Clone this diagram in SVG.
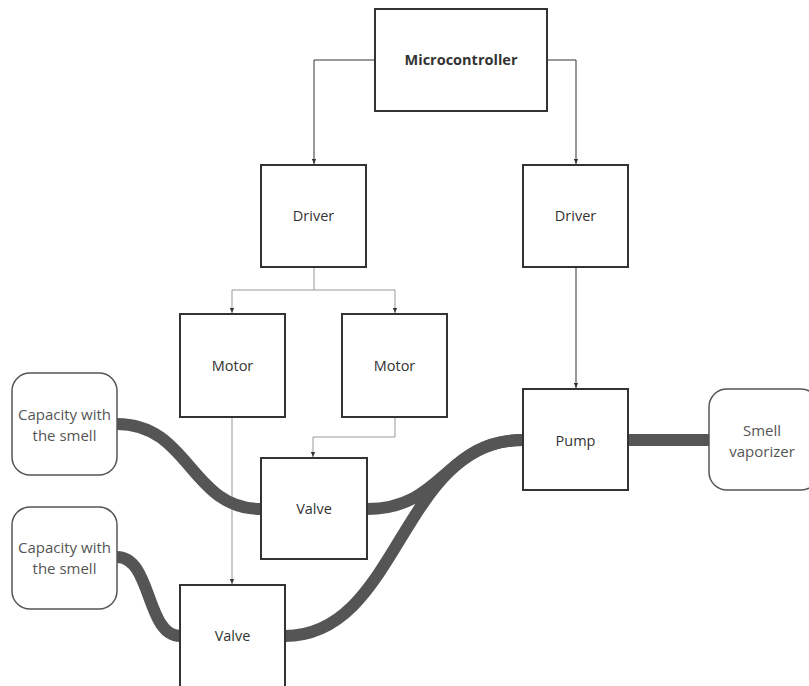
<svg xmlns="http://www.w3.org/2000/svg" width="809" height="686" viewBox="0 0 809 686">
<style>
.box{fill:#fff;stroke:#333;stroke-width:2}
.rbox{fill:#fff;stroke:#555;stroke-width:1.5}
.t{font-family:"Open Sans","Liberation Sans",sans-serif;font-size:14.5px;fill:#333;text-anchor:middle}
.b{font-weight:bold}
.g{font-family:"Open Sans","Liberation Sans",sans-serif;font-size:15px;fill:#555;text-anchor:middle}
.w{fill:none;stroke:#333;stroke-width:1}
.wl{fill:none;stroke:#999;stroke-width:1}
.pipe{fill:none;stroke:#555;stroke-width:12}
</style>
<defs>
<marker id="ah" viewBox="0 0 6 6" refX="6" refY="3" markerWidth="5" markerHeight="5" orient="auto" markerUnits="userSpaceOnUse">
<path d="M0,0.5 L6,3 L0,5.5 z" fill="#333"/>
</marker>
</defs>
<g id="connectors">
<path class="w" d="M375,60 H314 V164" marker-end="url(#ah)"/>
<path class="w" d="M547,60 H576 V164" marker-end="url(#ah)"/>
<path class="wl" d="M314,267 V290 H232 V313" marker-end="url(#ah)"/>
<path class="wl" d="M314,290 H395 V313" marker-end="url(#ah)"/>
<path class="w" d="M576,267 V388" marker-end="url(#ah)"/>
<path class="wl" d="M395,417 V437 H313 V457" marker-end="url(#ah)"/>
<path class="wl" d="M232,417 V584" marker-end="url(#ah)"/>
<path class="pipe" d="M117,424 C190,424 190,509 261,509"/>
<path class="pipe" d="M367,509 C445,509 445,440 523,440"/>
<path class="pipe" d="M117,557 C152,557 146,636 180,636"/>
<path class="pipe" d="M285,636 C400,636 400,440 523,440"/>
<path class="pipe" d="M628,440 H709"/>
</g>
<g id="microcontroller"><rect class="box" x="375" y="9" width="172" height="102"/><text class="t b" x="461" y="65">Microcontroller</text></g>
<g id="driver1"><rect class="box" x="261" y="165" width="105" height="102"/><text class="t" x="313.5" y="221">Driver</text></g>
<g id="driver2"><rect class="box" x="523" y="165" width="105" height="102"/><text class="t" x="575.5" y="221">Driver</text></g>
<g id="motor1"><rect class="box" x="180" y="314" width="105" height="103"/><text class="t" x="232.5" y="371">Motor</text></g>
<g id="motor2"><rect class="box" x="342" y="314" width="105" height="103"/><text class="t" x="394.5" y="371">Motor</text></g>
<g id="capacity1"><rect class="rbox" x="12" y="373" width="105" height="102" rx="18"/><text class="g" x="64.5" y="420">Capacity with</text><text class="g" x="64.5" y="441">the smell</text></g>
<g id="capacity2"><rect class="rbox" x="12" y="507" width="105" height="102" rx="18"/><text class="g" x="64.5" y="553">Capacity with</text><text class="g" x="64.5" y="574">the smell</text></g>
<g id="valve1"><rect class="box" x="261" y="458" width="106" height="101"/><text class="t" x="314" y="514">Valve</text></g>
<g id="valve2"><rect class="box" x="180" y="585" width="105" height="103"/><text class="t" x="232.5" y="641">Valve</text></g>
<g id="pump"><rect class="box" x="523" y="389" width="105" height="101"/><text class="t" x="575.5" y="446">Pump</text></g>
<g id="vaporizer"><rect class="rbox" x="709" y="389" width="110" height="101" rx="18"/><text class="g" x="762" y="436">Smell</text><text class="g" x="762" y="457">vaporizer</text></g>
</svg>
